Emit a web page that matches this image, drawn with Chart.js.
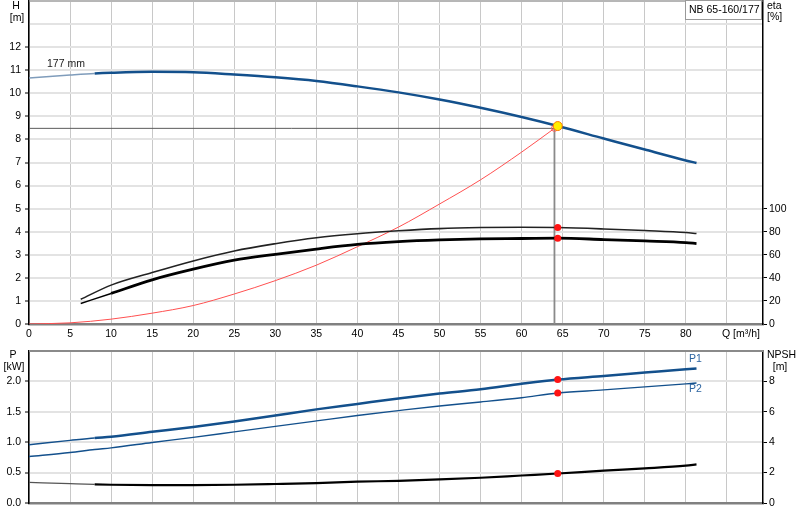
<!DOCTYPE html>
<html>
<head>
<meta charset="utf-8">
<script src="https://cdn.jsdelivr.net/npm/chart.js@4.4.0/dist/chart.umd.min.js"></script>
<style>
  body { margin: 0; background: #fff; }
  #wrap { position: relative; width: 800px; height: 520px; }
  canvas { position: absolute; left: 0; }
</style>
</head>
<body>
<div id="wrap">
  <canvas id="topChart" width="800" height="345" style="top:0"></canvas>
  <canvas id="botChart" width="800" height="175" style="top:345px"></canvas>
</div>
<script>
// head curve, 177 mm impeller
const headQ = [0, 5, 8, 10, 15, 20, 25, 30, 35, 40, 45, 50, 55, 60, 64.4, 70, 75, 80, 81.3];
const headH = [10.66, 10.79, 10.86, 10.89, 10.93, 10.91, 10.81, 10.69, 10.53, 10.3, 10.04, 9.73, 9.37, 8.97, 8.58, 8.04, 7.56, 7.09, 6.98];

// efficiency curves [%]
const etaQ = [6.3, 10, 15, 20, 25, 30, 35, 40, 45, 50, 55, 60, 64.4, 70, 75, 80, 81.3];
const etaPump = [21.4, 33.7, 44.6, 54.7, 63.3, 69.6, 74.8, 78.3, 80.8, 82.7, 83.6, 83.9, 83.6, 82.4, 81, 79.3, 78.4];
const etaTotal = [17.8, 26.5, 38.3, 47.5, 55.3, 60.4, 65, 69, 71.4, 72.9, 73.8, 74.1, 74.4, 73.2, 72, 70.6, 69.7];

// system curve up to the duty point
const sysQ = [0, 5, 10, 15, 20, 25, 30, 35, 40, 45, 50, 55, 60, 64];
const sysH = [0, 0.05, 0.21, 0.47, 0.8, 1.3, 1.88, 2.55, 3.35, 4.2, 5.2, 6.25, 7.45, 8.48];

// power [kW] and NPSH [m]
const powQ = [0, 5, 8, 10, 15, 20, 25, 30, 35, 40, 45, 50, 55, 60, 64.4, 70, 75, 80, 81.3];
const powP1 = [0.96, 1.03, 1.07, 1.09, 1.17, 1.25, 1.34, 1.44, 1.54, 1.63, 1.72, 1.8, 1.87, 1.96, 2.03, 2.09, 2.145, 2.2, 2.213];
const powP2 = [0.765, 0.83, 0.88, 0.907, 0.995, 1.08, 1.17, 1.26, 1.35, 1.44, 1.52, 1.596, 1.661, 1.732, 1.809, 1.86, 1.91, 1.96, 1.973];
const npsh = [1.36, 1.27, 1.22, 1.2, 1.18, 1.18, 1.2, 1.25, 1.31, 1.4, 1.46, 1.55, 1.66, 1.81, 1.94, 2.13, 2.28, 2.46, 2.54];

// duty point
const dutyQ = 64.0, dutyH = 8.48;
const markQ = 64.4, markH = 8.58;
const markEta = [83.6, 74.4];
const markP = [2.03, 1.809];
const markNpsh = 1.94;

const qTicks = [0, 5, 10, 15, 20, 25, 30, 35, 40, 45, 50, 55, 60, 65, 70, 75, 80, 85];
const qMax = 89.4;

const BLUE = '#13508c';
const FONT = { family: "'Liberation Sans', Arial, sans-serif", size: 10.5 };

const xy = (xs, ys) => xs.map((x, i) => ({ x: x, y: ys[i] }));
const lowFlow = (thin, thick) => (c) => c.p0.parsed.x < 8 ? thin : thick;

function fixAxis(w, h) {
  return (s) => {
    if (w != null) s.width = w;
    if (h != null) s.height = h;
    s.paddingTop = s.paddingBottom = s.paddingLeft = s.paddingRight = 0;
  };
}

const textPlugin = {
  id: 'texts',
  afterDraw(chart, args, opts) {
    const ctx = chart.ctx;
    const a = chart.chartArea;
    ctx.save();
    // top frame line
    ctx.strokeStyle = '#8a8a8a';
    ctx.lineWidth = opts.frame || 1;
    ctx.beginPath();
    ctx.moveTo(a.left, a.top);
    ctx.lineTo(a.right, a.top);
    ctx.stroke();
    if (opts.box) {
      const b = opts.box;
      ctx.fillStyle = '#fff';
      ctx.fillRect(b.x, b.y, b.w, b.h);
      ctx.strokeStyle = '#999';
      ctx.lineWidth = 1;
      ctx.strokeRect(b.x + 0.5, b.y + 0.5, b.w, b.h);
    }
    ctx.font = "10.5px 'Liberation Sans', Arial, sans-serif";
    ctx.textBaseline = 'middle';
    (opts.items || []).forEach(t => {
      ctx.fillStyle = t.color || '#000';
      ctx.textAlign = t.align || 'left';
      ctx.fillText(t.text, t.x, t.y);
    });
    ctx.restore();
  }
};

const hideAbove = (lim) => (c) => c.tick && c.tick.value > lim ? 'rgba(0,0,0,0)' : '#000';

new Chart(document.getElementById('topChart'), {
  type: 'line',
  data: {
    datasets: [
      { data: [{ x: markQ, y: markH }], yAxisID: 'y', showLine: false, order: 0,
        pointRadius: 4.5, pointBackgroundColor: '#ffee00', pointBorderColor: '#ff7a00', pointBorderWidth: 1 },
      { data: [{ x: dutyQ, y: dutyH }], yAxisID: 'y', showLine: false, order: 0,
        pointRadius: 3, pointBackgroundColor: 'rgba(255,255,255,0)', pointBorderColor: '#ff5a5a', pointBorderWidth: 1 },
      { data: markEta.map(v => ({ x: markQ, y: v })), yAxisID: 'yEta', showLine: false, order: 0,
        pointRadius: 3.5, pointBackgroundColor: '#ff1414', pointBorderWidth: 0 },
      { data: xy(headQ, headH), yAxisID: 'y', order: 2, borderColor: BLUE, borderWidth: 2.5,
        cubicInterpolationMode: 'monotone', pointRadius: 0,
        segment: { borderWidth: lowFlow(1.5, 2.5), borderColor: lowFlow('#7f9cbb', BLUE) } },
      { data: xy(etaQ, etaPump), yAxisID: 'yEta', order: 2, borderColor: '#222', borderWidth: 1.6,
        cubicInterpolationMode: 'monotone', pointRadius: 0 },
      { data: xy(etaQ, etaTotal), yAxisID: 'yEta', order: 2, borderColor: '#000', borderWidth: 2.8,
        cubicInterpolationMode: 'monotone', pointRadius: 0,
        segment: { borderWidth: lowFlow(1.5, 2.8) } },
      { data: xy(sysQ, sysH), yAxisID: 'y', order: 3, borderColor: '#ff5050', borderWidth: 1,
        cubicInterpolationMode: 'monotone', pointRadius: 0 },
      { data: [{ x: 0, y: dutyH }, { x: dutyQ, y: dutyH }], yAxisID: 'y', order: 4,
        borderColor: '#5a5a5a', borderWidth: 1, pointRadius: 0 },
      { data: [{ x: dutyQ, y: dutyH }, { x: dutyQ, y: 0 }], yAxisID: 'y', order: 4,
        borderColor: '#8a8a8a', borderWidth: 1.8, pointRadius: 0 }
    ]
  },
  options: {
    responsive: false,
    animation: false,
    events: [],
    layout: { autoPadding: false, padding: { top: 1, left: 0, right: 0, bottom: 0 } },
    plugins: {
      legend: { display: false },
      tooltip: { enabled: false },
      texts: {
        box: { x: 685, y: 0, w: 76, h: 19 },
        items: [
          { text: 'H', x: 16, y: 6, align: 'center' },
          { text: '[m]', x: 17, y: 18, align: 'center' },
          { text: 'eta', x: 767, y: 6 },
          { text: '[%]', x: 767, y: 17 },
          { text: 'NB 65-160/177', x: 689, y: 10 },
          { text: '177 mm', x: 47, y: 64, color: '#1a1a1a' },
          { text: 'Q [m\u00b3/h]', x: 722, y: 334 }
        ]
      }
    },
    scales: {
      x: {
        type: 'linear', position: 'bottom', min: 0, max: qMax,
        afterBuildTicks: (s) => { s.ticks = qTicks.map(v => ({ value: v })); },
        ticks: { autoSkip: false, maxRotation: 0, minRotation: 0, padding: 4, color: '#000', font: FONT,
          callback: (v) => v === 85 ? '' : v },
        grid: { color: '#c8c8c8', lineWidth: 1, drawTicks: false },
        border: { color: '#808080', width: 2.5 },
        afterFit: fixAxis(null, 21)
      },
      y: {
        type: 'linear', position: 'left', min: 0, max: 14,
        ticks: { stepSize: 1, padding: 4, color: '#000', font: FONT, callback: (v) => v <= 12 ? v : '' },
        grid: { color: '#e3e3e3', lineWidth: 2, tickLength: 4, tickWidth: 1, tickColor: hideAbove(12) },
        border: { color: '#000', width: 1.5 },
        afterFit: fixAxis(29, null)
      },
      yEta: {
        type: 'linear', position: 'right', min: 0, max: 280,
        ticks: { stepSize: 20, padding: 2, color: '#000', font: FONT, callback: (v) => v <= 100 ? v : '' },
        grid: { drawOnChartArea: false, tickLength: 4, tickWidth: 1, tickColor: hideAbove(100) },
        border: { color: '#000', width: 1.5 },
        afterFit: fixAxis(37, null)
      }
    }
  },
  plugins: [textPlugin]
});

new Chart(document.getElementById('botChart'), {
  type: 'line',
  data: {
    datasets: [
      { data: markP.map(v => ({ x: markQ, y: v })), yAxisID: 'y', showLine: false, order: 0,
        pointRadius: 3.5, pointBackgroundColor: '#ff1414', pointBorderWidth: 0 },
      { data: [{ x: markQ, y: markNpsh }], yAxisID: 'yN', showLine: false, order: 0,
        pointRadius: 3.5, pointBackgroundColor: '#ff1414', pointBorderWidth: 0 },
      { data: xy(powQ, powP1), yAxisID: 'y', order: 2, borderColor: BLUE, borderWidth: 2.5,
        cubicInterpolationMode: 'monotone', pointRadius: 0,
        segment: { borderWidth: lowFlow(1.5, 2.5) } },
      { data: xy(powQ, powP2), yAxisID: 'y', order: 2, borderColor: BLUE, borderWidth: 1.4,
        cubicInterpolationMode: 'monotone', pointRadius: 0 },
      { data: xy(powQ, npsh), yAxisID: 'yN', order: 2, borderColor: '#000', borderWidth: 2.2,
        cubicInterpolationMode: 'monotone', pointRadius: 0,
        segment: { borderWidth: lowFlow(1.2, 2.2), borderColor: lowFlow('#555', '#000') } }
    ]
  },
  options: {
    responsive: false,
    animation: false,
    events: [],
    layout: { autoPadding: false, padding: { top: 6, left: 0, right: 0, bottom: 0 } },
    plugins: {
      legend: { display: false },
      tooltip: { enabled: false },
      texts: {
        frame: 2,
        items: [
          { text: 'P', x: 13, y: 10, align: 'center' },
          { text: '[kW]', x: 14, y: 22, align: 'center' },
          { text: 'NPSH', x: 767, y: 10 },
          { text: '[m]', x: 780, y: 22, align: 'center' },
          { text: 'P1', x: 689, y: 14, color: '#2c64a0' },
          { text: 'P2', x: 689, y: 44, color: '#2c64a0' }
        ]
      }
    },
    scales: {
      x: {
        type: 'linear', position: 'bottom', min: 0, max: qMax,
        afterBuildTicks: (s) => { s.ticks = qTicks.map(v => ({ value: v })); },
        ticks: { display: false },
        grid: { color: '#c8c8c8', lineWidth: 1, drawTicks: false },
        border: { color: '#808080', width: 2.5 },
        afterFit: fixAxis(null, 17)
      },
      y: {
        type: 'linear', position: 'left', min: 0, max: 2.5,
        ticks: { stepSize: 0.5, padding: 4, color: '#000', font: FONT,
          callback: (v) => v <= 2 ? v.toFixed(1) : '' },
        grid: { color: '#e3e3e3', lineWidth: 2, tickLength: 4, tickWidth: 1, tickColor: hideAbove(2) },
        border: { color: '#000', width: 1.5 },
        afterFit: fixAxis(29, null)
      },
      yN: {
        type: 'linear', position: 'right', min: 0, max: 10,
        ticks: { stepSize: 2, padding: 2, color: '#000', font: FONT, callback: (v) => v <= 8 ? v : '' },
        grid: { drawOnChartArea: false, tickLength: 4, tickWidth: 1, tickColor: hideAbove(8) },
        border: { color: '#000', width: 1.5 },
        afterFit: fixAxis(37, null)
      }
    }
  },
  plugins: [textPlugin]
});
</script>
</body>
</html>
